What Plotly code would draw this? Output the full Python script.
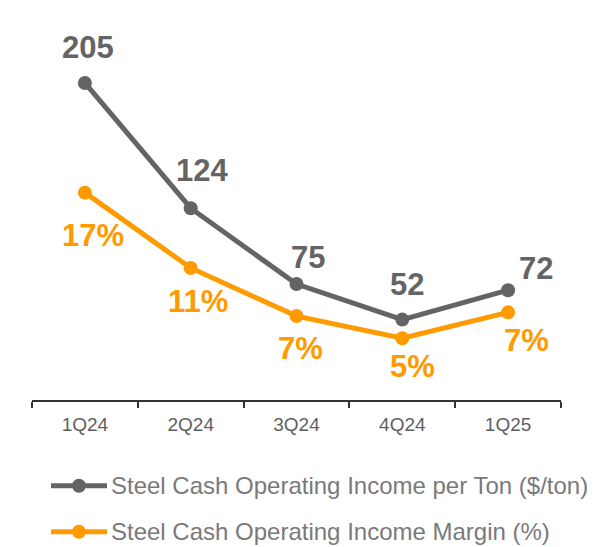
import plotly.graph_objects as go

quarters = ["1Q24", "2Q24", "3Q24", "4Q24", "1Q25"]
income_per_ton = [205, 124, 75, 52, 71]
ton_labels = ["205", "124", "75", "52", "72"]
income_margin = [16.8, 10.7, 6.8, 5.0, 7.1]
margin_labels = ["17%", "11%", "7%", "5%", "7%"]
series_names = ["Steel Cash Operating Income per Ton ($/ton)",
                "Steel Cash Operating Income Margin (%)"]

grey = "#646464"
orange = "#FF9A00"

# label offsets in px from each point: (xshift, yshift)
ton_offsets = [(3, 35), (11, 38), (11, 27), (5, 35), (28, 22)]
margin_offsets = [(8, -43), (7, -34), (4, -32), (10, -28), (18, -28)]

fig = go.Figure()
fig.add_trace(go.Scatter(
    x=quarters, y=income_per_ton, mode="lines+markers", name=series_names[0],
    line=dict(color=grey, width=5), marker=dict(size=14, color=grey),
    yaxis="y",
))
fig.add_trace(go.Scatter(
    x=quarters, y=income_margin, mode="lines+markers", name=series_names[1],
    line=dict(color=orange, width=5), marker=dict(size=14, color=orange),
    yaxis="y2",
))

annotations = []
for q, v, t, (dx, dy) in zip(quarters, income_per_ton, ton_labels, ton_offsets):
    annotations.append(dict(
        x=q, y=v, xref="x", yref="y", text="<b>%s</b>" % t, showarrow=False,
        xshift=dx, yshift=dy, font=dict(size=31, color=grey),
    ))
for q, v, t, (dx, dy) in zip(quarters, income_margin, margin_labels, margin_offsets):
    annotations.append(dict(
        x=q, y=v, xref="x", yref="y2", text="<b>%s</b>" % t, showarrow=False,
        xshift=dx, yshift=dy, font=dict(size=31, color=orange),
    ))

# hand-made legend so the symbol line is as long as in the original
shapes = []
legend_rows = [-0.2255, -0.3466]
for name, color, ly in zip(series_names, [grey, orange], legend_rows):
    shapes.append(dict(type="line", xref="paper", yref="paper",
                       x0=0.0359, x1=0.1418, y0=ly, y1=ly,
                       line=dict(color=color, width=5)))
    shapes.append(dict(type="circle", xref="paper", yref="paper",
                       xsizemode="pixel", ysizemode="pixel",
                       xanchor=0.0888, yanchor=ly, x0=-7, x1=7, y0=-7, y1=7,
                       fillcolor=color, line=dict(color=color, width=0)))
    annotations.append(dict(
        x=0.146, y=ly, xref="paper", yref="paper", text=name, showarrow=False,
        xanchor="left", yanchor="middle", font=dict(size=24, color="#7a7a7a"),
    ))

fig.update_layout(
    width=608, height=547,
    margin=dict(l=24, r=55, t=12, b=155),
    paper_bgcolor="white", plot_bgcolor="white",
    font=dict(family="Liberation Sans, Arial, sans-serif", color="#595959"),
    showlegend=False,
    xaxis=dict(
        type="category", range=[-0.5, 4.5], tickson="boundaries",
        ticks="outside", ticklen=6, tickcolor="#333333", tickwidth=1.5,
        showline=True, linecolor="#333333", linewidth=1.5,
        showgrid=False, zeroline=False, ticklabelstandoff=6,
        tickfont=dict(size=19, color="#5f5f5f"),
    ),
    yaxis=dict(range=[0, 245.7], visible=False, showgrid=False, zeroline=False),
    yaxis2=dict(range=[0, 30.79], overlaying="y", visible=False,
                showgrid=False, zeroline=False),
    annotations=annotations,
    shapes=shapes,
)

fig.write_html("out.html")
